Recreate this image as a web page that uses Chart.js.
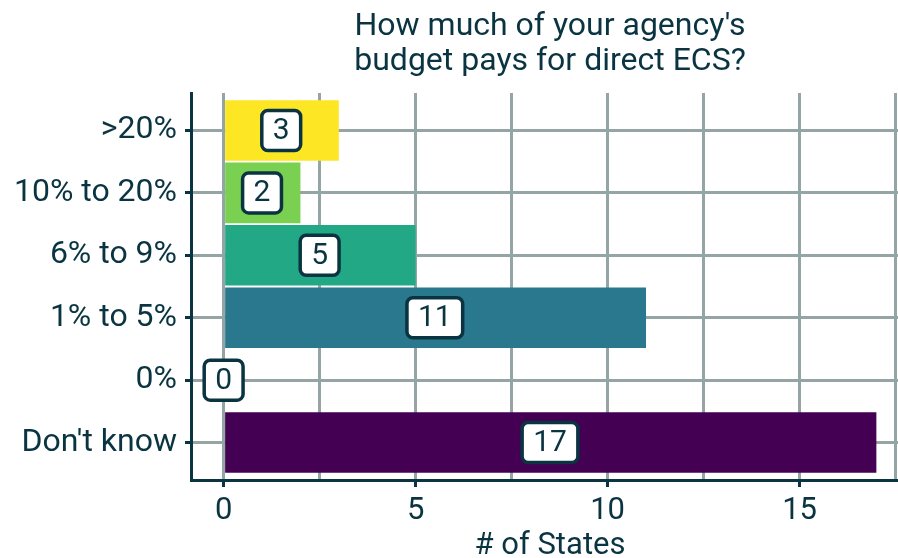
<!DOCTYPE html>
<html>
<head>
<meta charset="utf-8">
<script src="https://cdn.jsdelivr.net/npm/chart.js@4.4.0/dist/chart.umd.min.js"></script>
<style>
  html, body { margin: 0; padding: 0; background: #fff; overflow: hidden; }
  #wrap { width: 909px; height: 558px; }
</style>
</head>
<body>
<div id="wrap"><canvas id="chart" width="909" height="558"></canvas></div>
<script>
const categories = [">20%", "10% to 20%", "6% to 9%", "1% to 5%", "0%", "Don't know"];
const states     = [3, 2, 5, 11, 0, 17];
const barColors  = ["#fde725", "#7ad151", "#22a884", "#2a788e", "#414487", "#440154"];
const xTickValues = [0, 2.5, 5, 7.5, 10, 12.5, 15, 17.5];
const xTickLabels = [0, 5, 10, 15];
const titleLines = ["How much of your agency's", "budget pays for direct ECS?"];
const xTitle = "# of States";

const INK  = "#0a3441";
const GRID = "#95a5a6";
const FONT = "Roboto";

// white boxed count in the middle of each bar
const valueLabels = {
  id: "valueLabels",
  afterDatasetsDraw(chart) {
    const { ctx } = chart;
    const xs = chart.scales.x;
    const meta = chart.getDatasetMeta(0);
    ctx.save();
    ctx.font = "30px " + FONT;
    ctx.textAlign = "center";
    ctx.textBaseline = "middle";
    meta.data.forEach((bar, i) => {
      const v = states[i];
      const cx = xs.getPixelForValue(v / 2);
      const cy = bar.y;
      const txt = String(v);
      const w = ctx.measureText(txt).width + 22;
      const h = 40;
      ctx.beginPath();
      ctx.roundRect(cx - w / 2, cy - h / 2, w, h, 6);
      ctx.fillStyle = "#ffffff";
      ctx.fill();
      ctx.lineWidth = 3.5;
      ctx.strokeStyle = INK;
      ctx.stroke();
      ctx.fillStyle = INK;
      ctx.fillText(txt, cx, cy + 1);
    });
    ctx.restore();
  }
};

new Chart(document.getElementById("chart").getContext("2d"), {
  type: "bar",
  data: {
    datasets: [{
      data: states.map((v, i) => ({ x: v, y: i })),
      backgroundColor: barColors,
      borderWidth: 0,
      categoryPercentage: 1,
      barPercentage: 0.97
    }]
  },
  options: {
    indexAxis: "y",
    responsive: false,
    animation: false,
    layout: { padding: 0 },
    plugins: {
      legend: { display: false },
      tooltip: { enabled: false },
      title: {
        display: true,
        fullSize: false,
        text: titleLines,
        color: INK,
        font: { family: FONT, size: 32, weight: "normal", lineHeight: 1.08 },
        padding: { top: 10, bottom: 13.9 }
      }
    },
    scales: {
      x: {
        type: "linear",
        min: -0.85,
        max: 17.85,
        afterBuildTicks: s => { s.ticks = xTickValues.map(v => ({ value: v })); },
        afterFit: s => { s.height = 78; },
        grid: {
          color: GRID,
          lineWidth: 3,
          tickLength: 7,
          tickWidth: 3,
          tickColor: c => (c.tick && xTickLabels.includes(c.tick.value)) ? INK : "rgba(0,0,0,0)"
        },
        border: { color: INK, width: 3 },
        ticks: {
          color: INK,
          padding: 6,
          font: { family: FONT, size: 31 },
          callback: v => xTickLabels.includes(v) ? String(v) : ""
        },
        title: {
          display: true,
          text: xTitle,
          color: INK,
          font: { family: FONT, size: 31, lineHeight: 0.76 },
          padding: { top: 0, bottom: 0 }
        }
      },
      y: {
        type: "linear",
        reverse: true,
        min: -0.6,
        max: 5.6,
        offset: false,
        afterBuildTicks: s => { s.ticks = categories.map((_, i) => ({ value: i })); },
        afterFit: s => { s.width = 191; },
        grid: {
          offset: false,
          color: GRID,
          lineWidth: 3,
          tickLength: 6,
          tickWidth: 3,
          tickColor: INK
        },
        border: { color: INK, width: 3 },
        ticks: {
          color: INK,
          padding: 8,
          font: { family: FONT, size: 32 },
          callback: v => categories[v]
        }
      }
    }
  },
  plugins: [valueLabels]
});
</script>
</body>
</html>
